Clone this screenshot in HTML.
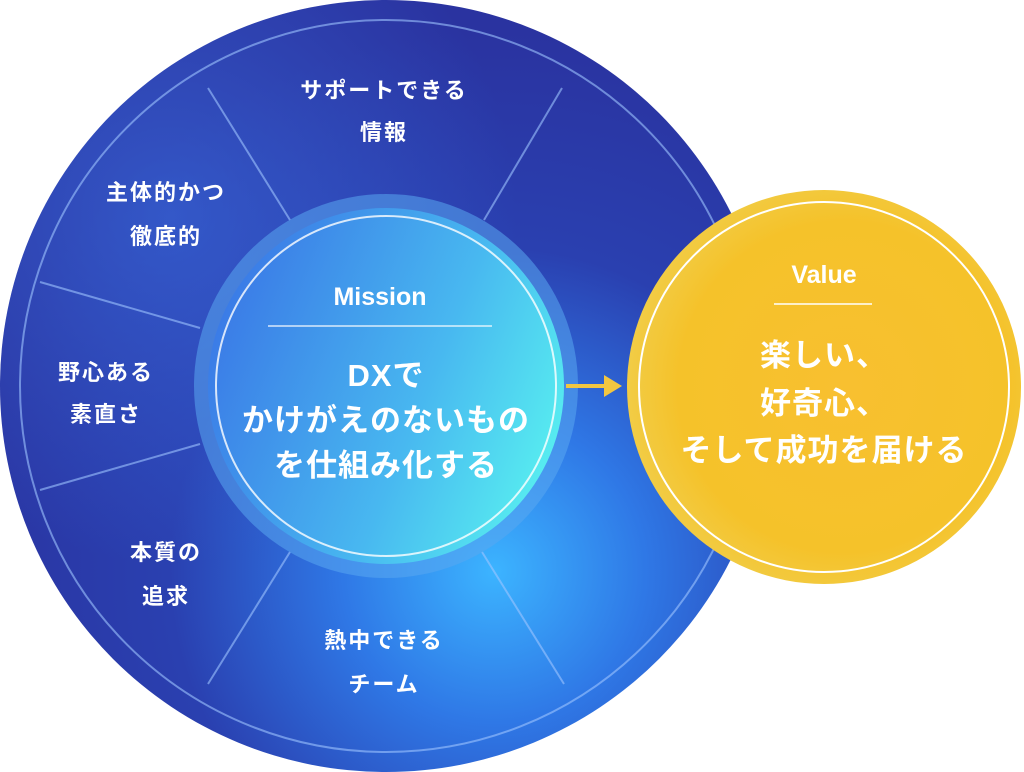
<!DOCTYPE html>
<html><head><meta charset="utf-8"><style>
html,body{margin:0;padding:0;background:#fff;}
svg{display:block}
text{font-family:"Liberation Sans","Noto Sans CJK JP",sans-serif;font-weight:bold;fill:#fff;text-anchor:middle;}
</style></head><body>
<svg width="1024" height="772" viewBox="0 0 1024 772">
<defs>
<radialGradient id="big" cx="0.64" cy="0.74" r="0.7">
<stop offset="0" stop-color="#3cb4ff"/>
<stop offset="0.28" stop-color="#2f78e6"/>
<stop offset="0.6" stop-color="#2a40b0"/>
<stop offset="1" stop-color="#2a33a0"/>
</radialGradient>
<radialGradient id="tl" cx="0.22" cy="0.28" r="0.45">
<stop offset="0" stop-color="#3a6ee0" stop-opacity="0.6"/>
<stop offset="1" stop-color="#3a6ee0" stop-opacity="0"/>
</radialGradient>
<linearGradient id="mid" x1="0" y1="0.3" x2="1" y2="0.7">
<stop offset="0" stop-color="#3a78e6"/>
<stop offset="0.6" stop-color="#48b8f0"/>
<stop offset="1" stop-color="#58f0f0"/>
</linearGradient>
<radialGradient id="yel" cx="0.55" cy="0.5" r="0.6">
<stop offset="0" stop-color="#f8c030"/>
<stop offset="0.7" stop-color="#f5c22a"/>
<stop offset="1" stop-color="#f0d050"/>
</radialGradient>
</defs>
<circle cx="386" cy="386" r="386" fill="url(#big)"/>
<circle cx="386" cy="386" r="386" fill="url(#tl)"/>
<circle cx="386" cy="386" r="366" fill="none" stroke="#9ec4ff" stroke-opacity="0.6" stroke-width="2"/>
<g stroke="#9ec4ff" stroke-opacity="0.6" stroke-width="2">
<line x1="208" y1="88" x2="290" y2="220"/>
<line x1="562" y1="88" x2="484" y2="220"/>
<line x1="40" y1="282" x2="200" y2="328"/>
<line x1="40" y1="490" x2="200" y2="444"/>
<line x1="208" y1="684" x2="290" y2="552"/>
<line x1="564" y1="684" x2="482" y2="552"/>
</g>
<circle cx="386" cy="386" r="192" fill="#5aa8f0" fill-opacity="0.55"/>
<circle cx="386" cy="386" r="178" fill="url(#mid)"/>
<circle cx="386" cy="386" r="170" fill="none" stroke="#fff" stroke-opacity="0.8" stroke-width="2"/>
<line x1="268" y1="326" x2="492" y2="326" stroke="#fff" stroke-opacity="0.8" stroke-width="1.5"/>
<line x1="566" y1="386" x2="608" y2="386" stroke="#f2c640" stroke-width="4"/>
<polygon points="604,375 622,386 604,397" fill="#f2c640"/>
<circle cx="824" cy="387" r="197" fill="url(#yel)"/>
<circle cx="824" cy="387" r="185" fill="none" stroke="#fff" stroke-width="2"/>
<line x1="774" y1="304" x2="872" y2="304" stroke="#fff" stroke-width="1.5"/>
<g font-size="22" letter-spacing="2">
<text x="384" y="98">サポートできる</text><text x="384" y="140">情報</text>
<text x="166" y="200">主体的かつ</text><text x="166" y="244">徹底的</text>
<text x="106" y="380">野心ある</text><text x="106" y="422">素直さ</text>
<text x="166" y="560">本質の</text><text x="166" y="604">追求</text>
<text x="384" y="648">熱中できる</text><text x="384" y="692">チーム</text>
</g>
<text x="380" y="305" font-size="25">Mission</text>
<g font-size="31" letter-spacing="1">
<text x="386" y="386">DXで</text>
<text x="386" y="431">かけがえのないもの</text>
<text x="386" y="476">を仕組み化する</text>
</g>
<text x="824" y="283" font-size="25">Value</text>
<g font-size="31" letter-spacing="1">
<text x="824" y="366">楽しい、</text>
<text x="824" y="414">好奇心、</text>
<text x="824" y="461">そして成功を届ける</text>
</g>
</svg>
</body></html>
